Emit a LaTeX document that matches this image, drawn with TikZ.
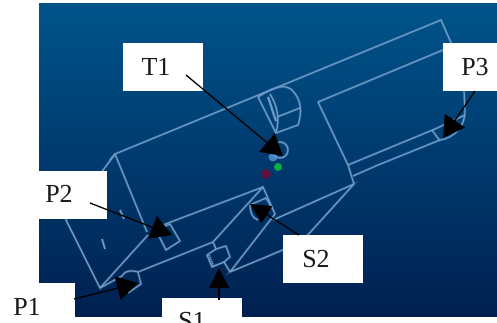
\documentclass[tikz,border=0pt]{standalone}
\usepackage{fontspec}
\setmainfont{Liberation Serif}
\usetikzlibrary{arrows.meta}
\definecolor{bgtop}{RGB}{0,84,138}
\definecolor{bgmid}{RGB}{0,58,110}
\definecolor{bgbot}{RGB}{0,32,80}
\definecolor{wirec}{RGB}{110,155,200}
\tikzset{
  wire/.style={draw=wirec,line width=1.2pt,line join=round,
    preaction={draw=wirec,line width=2.6pt,draw opacity=.3}},
  box/.style={fill=white,draw=none,inner sep=0pt},
  txt/.style={font=\fontsize{26}{26}\selectfont,text=black!90,inner sep=0pt},
  pointer/.style={draw=black,line width=1.3pt,-{Triangle[length=21pt,width=24pt]}},
  smallpointer/.style={draw=black,line width=1.3pt,-{Triangle[length=20pt,width=20pt]}}
}
\begin{document}
\begin{tikzpicture}[x=1pt,y=-1pt]
\useasboundingbox (0,0) rectangle (497,323);
\fill[white] (0,0) rectangle (497,323);
\shade[top color=bgtop,bottom color=bgbot,middle color=bgmid] (39,4) rectangle (497,316);
% body wireframe
\draw[wire] (110,160) -- (115,154) -- (441,20) -- (463,70) -- (465,112) .. controls (465,125) and (455,138) .. (440,140) -- (378,165) -- (353,176);
\draw[wire] (318,102) -- (443,50);
\draw[wire] (318,102) -- (348,165) -- (354,184);
\draw[wire] (348,165) -- (435,129);
\draw[wire] (432,130) -- (440,141);
\draw[wire] (115,154) -- (147,232);
\draw[wire] (115,154) -- (66,220) -- (100,288) -- (148,235);
\draw[wire] (163,225) -- (263,187) -- (275,214) -- (230,272) -- (290,247);
\draw[wire] (273,220) -- (354,184) -- (305,238);
\draw[wire] (100,288) -- (122,276);
\draw[wire] (138,272) -- (213,242) -- (263,187);
% P2 port
\draw[wire] (163,227) -- (170,224) -- (180,241) -- (166,250) -- (157,232);
% P1 port
\draw[wire] (122,276) .. controls (125,270) and (132,270) .. (138,272) -- (141,284) -- (128,293);
% S1 port
\draw[wire] (213,242) -- (216,249) -- (226,246) -- (230,257) -- (224,262) -- (230,272);
\draw[wire] (216,249) -- (207,255) -- (212,267) -- (224,262);
\draw[wire,densely dotted] (209,255) -- (214,267);
% S2 port
\draw[wire] (250,205) -- (266,198) -- (272,208);
\draw[wire] (250,205) .. controls (250,212) and (252,218) .. (258,220);
% cylinder
\draw[wire] (258,97) -- (276,133) -- (298,125) .. controls (302,113) and (302,100) .. (292,90) .. controls (285,84) and (275,86) .. (258,97);
\draw[wire] (270,94) .. controls (277,105) and (280,118) .. (276,133);
\draw[wire,line width=2pt] (268,97) .. controls (272,108) and (274,116) .. (276,121);
\draw[wire] (277,117) -- (300,108);
% T1 hole and dots
\draw[wire] (280,150) circle[radius=8];
\fill[cyan!60!blue!70,opacity=.8] (273,157) circle[radius=4.5];
\fill[green!55!teal,opacity=.85] (278,167) circle[radius=4];
\fill[purple!70!black,opacity=.7] (266,174) circle[radius=5];
% P3 cap detail
\draw[wire] (435,129) -- (465,115);
% small holes
\draw[wire,line width=1.5pt] (120,210) -- (124,219);
\draw[wire,line width=1.5pt] (102,239) -- (105,249);
% labels
\node[box,minimum width=80pt,minimum height=48pt] (t1box) at (163,67) {};
\node[box,minimum width=54pt,minimum height=48pt] (p3box) at (470,67) {};
\node[box,minimum width=68pt,minimum height=48pt] (p2box) at (73,195) {};
\node[box,minimum width=75pt,minimum height=40pt] (p1box) at (37.5,303) {};
\node[box,minimum width=80pt,minimum height=25pt] (s1box) at (202,310.5) {};
\node[box,minimum width=80pt,minimum height=48pt] (s2box) at (323,259) {};
\node[txt] (t1) at (156,67) {T1};
\node[txt] (p3) at (475,67) {P3};
\node[txt] (p2) at (59,194) {P2};
\node[txt] (p1) at (27,307) {P1};
\node[txt,anchor=base] (s1) at (192,329) {S1};
\node[txt] (s2) at (316,259) {S2};
% pointers
\coordinate (t1s) at (186,75);  \coordinate (t1e) at (283,156);
\coordinate (p3s) at (475,91);  \coordinate (p3e) at (443,138);
\coordinate (p2s) at (90,203);  \coordinate (p2e) at (172,235);
\coordinate (p1s) at (74,299);  \coordinate (p1e) at (138,283);
\coordinate (s1s) at (219,300); \coordinate (s1e) at (219,268);
\coordinate (s2s) at (299,235); \coordinate (s2e) at (250,204);
\draw[pointer] (t1s) -- (t1e);
\draw[pointer] (p3s) -- (p3e);
\draw[pointer] (p2s) -- (p2e);
\draw[pointer] (p1s) -- (p1e);
\draw[smallpointer] (s1s) -- (s1e);
\draw[smallpointer] (s2s) -- (s2e);
\end{tikzpicture}
\end{document}
